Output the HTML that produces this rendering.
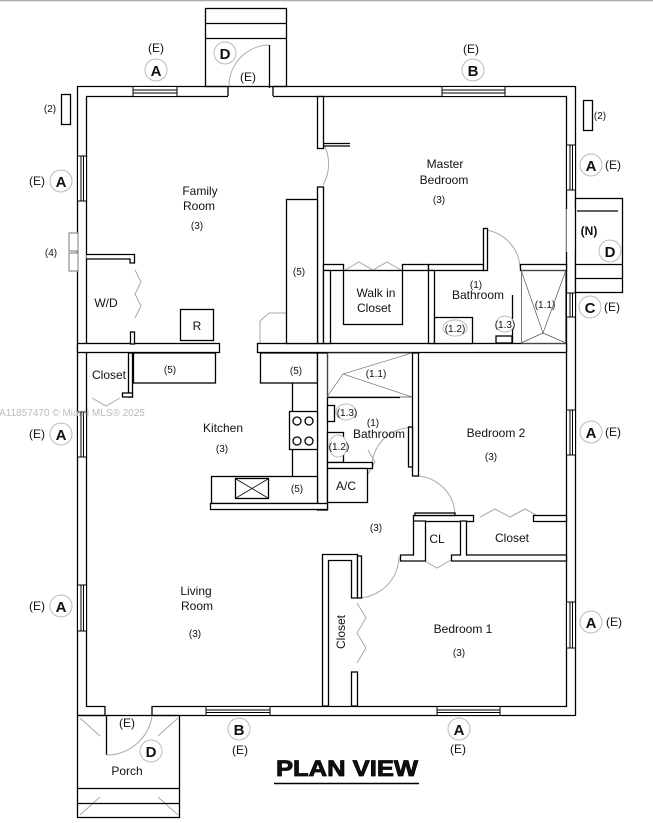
<!DOCTYPE html>
<html><head><meta charset="utf-8"><style>
html,body{margin:0;padding:0;background:#fff;width:653px;height:823px;overflow:hidden}
svg{display:block}
text{font-family:"Liberation Sans",sans-serif;fill:#111}
.s{font-size:10px}
.l{font-size:12px}
.b{font-size:15px;font-weight:bold}
</style></head><body>
<svg width="653" height="823" viewBox="0 0 653 823" xmlns="http://www.w3.org/2000/svg">
<line x1="0" y1="0.5" x2="653" y2="0.5" stroke="#aaa" stroke-width="1.5"/>
<g fill="none" stroke="#000" stroke-width="1.3">
<rect x="205.5" y="8.5" width="81" height="78"/>
<line x1="205" y1="23.5" x2="287" y2="23.5"/>
<line x1="205" y1="38.5" x2="287" y2="38.5"/>
<path d="M228,86.5 H77.5 V715.5 H105 M152,715.5 H575.5 V86.5 H273"/>
<path d="M228,96.5 H86.5 V706.5 H105 M152,706.5 H566.5 V96.5 H273"/>
<path d="M228,86 V96 M273,86 V96 M105,706 V716 M152,706 V716"/>
<line x1="269.5" y1="45" x2="269.5" y2="88"/>
<line x1="106.5" y1="715" x2="106.5" y2="755"/>
</g>
<g fill="none" stroke="#aaa" stroke-width="1">
<path d="M269,45 A41,41 0 0 0 229,86"/>
<path d="M106,755 A46,46 0 0 0 152,716"/>
<path d="M323,143 A42,42 0 0 1 323,185"/>
<path d="M486,230 A40,40 0 0 1 520,268"/>
<path d="M575,211 A43,43 0 0 1 575,252"/>
<path d="M372,463 A40,40 0 0 1 418,428"/>
<path d="M417,476 A40,40 0 0 1 455,515"/>
<path d="M357,598 A42,42 0 0 0 399,557"/>
<path d="M135,270 l6,12 l-6,12 l6,12 l-6,12"/>
<path d="M345,270 l14,-8 l14,8 l14,-8 l14,8"/>
<path d="M480,517 l15,-8 l15,8 l15,-8 l15,8"/>
<path d="M423,560 l14,8 l14,-8"/>
<path d="M357,603 l9,15 l-9,15 l9,15 l-9,15"/>
<path d="M92,398 l14,8 l14,-8"/>
<path d="M368,450 l7,12 l-7,12"/>
<path d="M80,718 l20,18 M178,718 l-20,18 M80,815 l20,-18 M178,815 l-20,-18"/>
<path d="M260,343 V321 l9,-8 h17"/>
</g>
<g fill="#fff" stroke="#000" stroke-width="1">
<rect x="133" y="86.5" width="44" height="10"/><line x1="133" y1="90" x2="177" y2="90"/><line x1="133" y1="93" x2="177" y2="93"/>
<rect x="442" y="86.5" width="63" height="10"/><line x1="442" y1="90" x2="505" y2="90"/><line x1="442" y1="93" x2="505" y2="93"/>
<rect x="77.5" y="156" width="9" height="45"/><line x1="81" y1="156" x2="81" y2="201"/><line x1="83.5" y1="156" x2="83.5" y2="201"/>
<rect x="77.5" y="412" width="9" height="45"/><line x1="81" y1="412" x2="81" y2="457"/><line x1="83.5" y1="412" x2="83.5" y2="457"/>
<rect x="77.5" y="585" width="9" height="46"/><line x1="81" y1="585" x2="81" y2="631"/><line x1="83.5" y1="585" x2="83.5" y2="631"/>
<rect x="566.5" y="145" width="9" height="45"/><line x1="570" y1="145" x2="570" y2="190"/><line x1="572.5" y1="145" x2="572.5" y2="190"/>
<rect x="566.5" y="293" width="9" height="24"/><line x1="570" y1="293" x2="570" y2="317"/><line x1="572.5" y1="293" x2="572.5" y2="317"/>
<rect x="566.5" y="410" width="9" height="45"/><line x1="570" y1="410" x2="570" y2="455"/><line x1="572.5" y1="410" x2="572.5" y2="455"/>
<rect x="566.5" y="602" width="9" height="46"/><line x1="570" y1="602" x2="570" y2="648"/><line x1="572.5" y1="602" x2="572.5" y2="648"/>
<rect x="206" y="706.5" width="64" height="9"/><line x1="206" y1="710" x2="270" y2="710"/><line x1="206" y1="712.5" x2="270" y2="712.5"/>
<rect x="437" y="706.5" width="63" height="9"/><line x1="437" y1="710" x2="500" y2="710"/><line x1="437" y1="712.5" x2="500" y2="712.5"/>
<rect x="566.5" y="209" width="9" height="43" stroke="none"/>
</g>
<g fill="#fff" stroke="#000" stroke-width="1.3">
<rect x="575.5" y="198.5" width="47" height="94"/>
<line x1="575" y1="264.5" x2="623" y2="264.5"/><line x1="575" y1="278.5" x2="623" y2="278.5"/>
<line x1="577" y1="211" x2="618" y2="211"/>
<rect x="77.5" y="715.5" width="102" height="102" fill="none"/>
<line x1="77" y1="788.5" x2="180" y2="788.5"/><line x1="77" y1="803.5" x2="180" y2="803.5"/>
<rect x="61.5" y="94.5" width="9" height="30"/>
<rect x="583.5" y="100.5" width="9" height="30"/>
<rect x="69" y="233" width="9" height="18" stroke="#999"/><rect x="69" y="253" width="9" height="18" stroke="#999"/>
<rect x="77.5" y="343.5" width="142" height="9"/>
<rect x="257.5" y="343.5" width="309" height="9"/>
<rect x="317.5" y="96.5" width="6" height="52"/>
<rect x="317.5" y="187" width="6" height="156.5"/>
<line x1="323" y1="143.5" x2="350" y2="143.5"/><line x1="323" y1="146" x2="350" y2="146"/>
<rect x="286.5" y="199.5" width="31" height="144"/>
<path d="M86.5,254.5 H134.5 V263 H130 V259 H86.5" fill="#fff"/>
<rect x="130.5" y="332" width="4" height="12"/>
<rect x="180.5" y="309.5" width="33" height="31"/>
<rect x="323.5" y="264.5" width="20" height="6"/>
<rect x="402.5" y="264.5" width="26" height="6"/>
<rect x="343.5" y="270.5" width="59" height="54"/>
<rect x="323.5" y="270.5" width="7" height="73"/>
<rect x="428.5" y="264.5" width="55" height="6"/>
<rect x="483.5" y="228.5" width="4" height="42"/>
<rect x="520.5" y="264.5" width="46" height="6"/>
<rect x="428.5" y="270.5" width="6" height="73"/>
<rect x="434.5" y="317.5" width="38" height="26"/>
<rect x="496" y="336" width="16" height="7"/>
<line x1="512.5" y1="295" x2="512.5" y2="343"/>
<rect x="521.5" y="270.5" width="44" height="73" fill="none" stroke="#555" stroke-width="0.8"/>
<path d="M521,270 L543,333 L566,270 M543,333 L521,343 M543,333 L566,343" stroke="#555" stroke-width="0.7" fill="none"/>
<rect x="133.5" y="353" width="82" height="30"/>
<rect x="128.5" y="353" width="4" height="44"/>
<rect x="122.5" y="393" width="10" height="4"/>
<rect x="260.5" y="353" width="57" height="30"/>
<rect x="317.5" y="353" width="10" height="157"/>
<rect x="289.5" y="411.5" width="28" height="38"/>
<circle cx="297" cy="421" r="4"/><circle cx="309" cy="421" r="4"/><circle cx="297" cy="441" r="4"/><circle cx="309" cy="441" r="4"/>
<line x1="292.5" y1="383" x2="292.5" y2="411"/>
<line x1="292.5" y1="450" x2="292.5" y2="476"/>
<rect x="211.5" y="476.5" width="106" height="27"/>
<rect x="235.5" y="478.5" width="33" height="20"/>
<path d="M236,479 L268,498 M268,479 L236,498" stroke-width="0.8"/>
<rect x="210.5" y="503.5" width="117" height="6"/>
<rect x="327.5" y="353" width="85" height="44" fill="none" stroke="#555" stroke-width="0.8"/>
<path d="M327,397 L343,374 L412,353 M343,374 L412,397" stroke="#777" stroke-width="0.7" fill="none"/>
<line x1="327" y1="397.5" x2="400" y2="397.5"/>
<rect x="412.5" y="353" width="6" height="123"/>
<rect x="408.5" y="427" width="4" height="40"/>
<rect x="327.5" y="405.5" width="7" height="16"/>
<rect x="327.5" y="432.5" width="16" height="30"/>
<rect x="327.5" y="462.5" width="45" height="6"/>
<rect x="327.5" y="468.5" width="40" height="34"/>
<rect x="413.5" y="515.5" width="60" height="6"/>
<rect x="415" y="513" width="40" height="2.5"/>
<rect x="533.5" y="515.5" width="33" height="6"/>
<path d="M413.5,521 V555 H400.5 V561 H425.5 V521 H413.5" />
<path d="M460.5,521 V555 H451.5 V561 H566.5 V555 H466.5 V521 Z"/>
<path d="M322.5,706 V554.5 H357.5 V598 H351.5 V560.5 H328.5 V706 Z"/>
<rect x="357.5" y="556" width="4" height="42"/>
<rect x="351.5" y="672" width="6" height="34"/>
</g>
<g fill="#fff" stroke="#bbb" stroke-width="1">
<circle cx="156" cy="70" r="11"/><circle cx="225" cy="53" r="11"/><circle cx="473" cy="70" r="11"/>
<circle cx="61" cy="181" r="11"/><circle cx="61" cy="434" r="11"/><circle cx="61" cy="606" r="11"/>
<circle cx="591" cy="165" r="11"/><circle cx="610" cy="251" r="11"/><circle cx="590" cy="307" r="11"/>
<circle cx="591" cy="432" r="11"/><circle cx="591" cy="622" r="11"/>
<circle cx="239" cy="729" r="11"/><circle cx="459" cy="729" r="11"/><circle cx="151" cy="751" r="11"/>
<ellipse cx="346" cy="412" rx="10" ry="8"/><ellipse cx="338" cy="446" rx="9" ry="11"/>
<ellipse cx="455" cy="328" rx="12" ry="8"/><ellipse cx="505" cy="324" rx="9" ry="8"/>
</g>
<g text-anchor="middle">
<text class="b" x="156" y="76">A</text><text class="b" x="225" y="59">D</text><text class="b" x="473" y="76">B</text>
<text class="b" x="61" y="187">A</text><text class="b" x="61" y="440">A</text><text class="b" x="61" y="612">A</text>
<text class="b" x="591" y="171">A</text><text class="b" x="610" y="257">D</text><text class="b" x="590" y="313">C</text>
<text class="b" x="591" y="438">A</text><text class="b" x="591" y="628">A</text>
<text class="b" x="239" y="735">B</text><text class="b" x="459" y="735">A</text><text class="b" x="151" y="757">D</text>
<text class="l" x="156" y="52">(E)</text><text class="l" x="248" y="81">(E)</text><text class="l" x="471" y="53">(E)</text>
<text class="l" x="37" y="185">(E)</text><text class="l" x="37" y="438">(E)</text><text class="l" x="37" y="610">(E)</text>
<text class="l" x="613" y="169">(E)</text><text class="l" x="612" y="311">(E)</text><text class="l" x="613" y="436">(E)</text><text class="l" x="614" y="626">(E)</text>
<text class="l" x="240" y="754">(E)</text><text class="l" x="458" y="753">(E)</text><text class="l" x="127" y="727">(E)</text>
<text class="l" x="589" y="235" font-weight="bold">(N)</text>
<text class="s" x="50" y="112">(2)</text><text class="s" x="600" y="119">(2)</text><text class="s" x="51" y="256">(4)</text>
<text class="l" x="200" y="195">Family</text><text class="l" x="199" y="210">Room</text><text class="s" x="197" y="229">(3)</text>
<text class="l" x="106" y="307">W/D</text><text class="l" x="197" y="330">R</text><text class="s" x="299" y="275">(5)</text>
<text class="l" x="445" y="168">Master</text><text class="l" x="444" y="184">Bedroom</text><text class="s" x="439" y="203">(3)</text>
<text class="l" x="376" y="297">Walk in</text><text class="l" x="374" y="312">Closet</text>
<text class="s" x="476" y="288">(1)</text><text class="l" x="478" y="299">Bathroom</text>
<text class="s" x="455" y="332">(1.2)</text><text class="s" x="505" y="328">(1.3)</text><text class="s" x="545" y="308">(1.1)</text>
<text class="l" x="109" y="379">Closet</text><text class="s" x="170" y="373">(5)</text><text class="s" x="296" y="374">(5)</text>
<text class="l" x="223" y="432">Kitchen</text><text class="s" x="222" y="452">(3)</text><text class="s" x="297" y="492">(5)</text>
<text class="s" x="376" y="377">(1.1)</text><text class="s" x="347" y="416">(1.3)</text><text class="s" x="373" y="426">(1)</text>
<text class="l" x="379" y="438">Bathroom</text><text class="s" x="339" y="450">(1.2)</text>
<text class="l" x="346" y="490">A/C</text><text class="s" x="376" y="531">(3)</text>
<text class="l" x="496" y="437">Bedroom 2</text><text class="s" x="491" y="460">(3)</text>
<text class="l" x="437" y="543">CL</text><text class="l" x="512" y="542">Closet</text>
<text class="l" x="196" y="595">Living</text><text class="l" x="197" y="610">Room</text><text class="s" x="195" y="637">(3)</text>
<text class="l" x="463" y="633">Bedroom 1</text><text class="s" x="459" y="656">(3)</text>
<text class="l" x="345" y="632" transform="rotate(-90 345 632)">Closet</text>
<text class="l" x="127" y="775">Porch</text>
<text x="347" y="776" font-size="22" font-weight="bold" textLength="142" lengthAdjust="spacingAndGlyphs" stroke="#000" stroke-width="0.8">PLAN VIEW</text>
<text x="72" y="416" font-size="10" style="fill:#bbb">A11857470 © Miami MLS® 2025</text>
</g>
<line x1="274" y1="783.5" x2="419" y2="783.5" stroke="#000" stroke-width="1.5"/>
</svg>
</body></html>
